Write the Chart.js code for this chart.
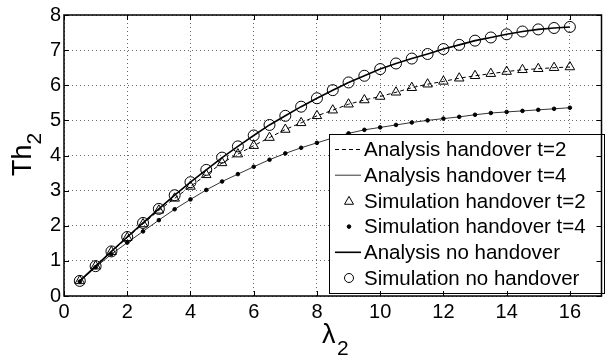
<!DOCTYPE html>
<html>
<head>
<meta charset="utf-8">
<script src="https://cdn.jsdelivr.net/npm/chart.js@4.4.0/dist/chart.umd.min.js"></script>
<style>
  html, body { margin: 0; padding: 0; background: #fff; }
  #wrap { width: 608px; height: 360px; position: relative; }
</style>
</head>
<body>
<div id="wrap"><canvas id="myChart" width="608" height="360"></canvas></div>
<script>
// lambda_2 values (x)
const lambda = [0.5, 1, 1.5, 2, 2.5, 3, 3.5, 4, 4.5, 5, 5.5, 6, 6.5, 7, 7.5, 8,
  8.5, 9, 9.5, 10, 10.5, 11, 11.5, 12, 12.5, 13, 13.5, 14, 14.5, 15, 15.5, 16];

// Th_2 values
const noHandover = [0.43, 0.85, 1.27, 1.68, 2.08, 2.48, 2.87, 3.24, 3.59, 3.94, 4.26, 4.57,
  4.87, 5.13, 5.39, 5.63, 5.86, 6.08, 6.27, 6.46, 6.62, 6.76, 6.89, 7.03, 7.15, 7.27, 7.36,
  7.45, 7.53, 7.59, 7.63, 7.66];
const handoverT2 = [0.43, 0.85, 1.26, 1.66, 2.05, 2.44, 2.78, 3.12, 3.45, 3.79, 4.04, 4.28,
  4.51, 4.74, 4.93, 5.13, 5.29, 5.46, 5.58, 5.68, 5.80, 5.93, 6.03, 6.11, 6.20, 6.27, 6.33,
  6.39, 6.44, 6.47, 6.50, 6.52];
const handoverT4 = [0.41, 0.82, 1.19, 1.52, 1.84, 2.16, 2.47, 2.75, 3.02, 3.26, 3.47, 3.68,
  3.88, 4.06, 4.22, 4.36, 4.50, 4.63, 4.73, 4.80, 4.87, 4.94, 5.00, 5.05, 5.10, 5.16, 5.21,
  5.24, 5.27, 5.30, 5.33, 5.36];

const xTicks = [0, 2, 4, 6, 8, 10, 12, 14, 16];
const yTicks = [0, 1, 2, 3, 4, 5, 6, 7, 8];

const FONT = "'Liberation Sans', Arial, sans-serif";

function pts(ys) {
  return lambda.map((x, i) => ({ x: x, y: ys[i] }));
}

const line = (label, ys, width, dash) => ({
  label: label, data: pts(ys), borderColor: '#000', borderWidth: width,
  borderDash: dash, pointRadius: 0, showLine: true, fill: false
});
const marks = (label, ys, style, r) => ({
  label: label, data: pts(ys), showLine: false, pointStyle: style, pointRadius: r,
  pointBorderColor: '#000', pointBackgroundColor: style === 'circle' && r < 3 ? '#000' : 'rgba(0,0,0,0)',
  pointBorderWidth: 1
});

const datasets = [
  line('Analysis handover t=2', handoverT2, 1, [4, 3]),
  line('Analysis handover t=4', handoverT4, 0.8, []),
  marks('Simulation handover t=2', handoverT2, 'triangle', 5.5),
  marks('Simulation handover t=4', handoverT4, 'circle', 1.8),
  line('Analysis no handover', noHandover, 1.6, []),
  marks('Simulation no handover', noHandover, 'circle', 5.5)
];

// legend box inside the plot, matlab style
const boxLegend = {
  id: 'boxLegend',
  afterDatasetsDraw(chart) {
    const ctx = chart.ctx;
    const x0 = 329, y0 = 134, w = 275, h = 159, row = 25.7;
    ctx.save();
    ctx.fillStyle = '#fff';
    ctx.fillRect(x0, y0, w, h);
    ctx.strokeStyle = '#000';
    ctx.lineWidth = 1;
    ctx.strokeRect(x0 + 0.5, y0 + 0.5, w, h);
    ctx.font = '20.5px ' + FONT;
    ctx.textBaseline = 'middle';
    datasets.forEach((ds, i) => {
      const cy = y0 + 15.5 + i * row;
      ctx.strokeStyle = '#000';
      if (ds.showLine) {
        ctx.setLineDash(ds.borderDash);
        ctx.lineWidth = ds.borderWidth;
        ctx.beginPath();
        ctx.moveTo(335, cy);
        ctx.lineTo(361, cy);
        ctx.stroke();
        ctx.setLineDash([]);
      } else {
        ctx.fillStyle = ds.pointBackgroundColor;
        ctx.lineWidth = 1;
        ctx.beginPath();
        if (ds.pointStyle === 'triangle') {
          const r = 4.5;
          ctx.moveTo(349, cy - r);
          ctx.lineTo(349 + r, cy + r * 0.75);
          ctx.lineTo(349 - r, cy + r * 0.75);
          ctx.closePath();
        } else {
          ctx.arc(349, cy, ds.pointRadius < 3 ? 1.8 : 4.5, 0, Math.PI * 2);
        }
        ctx.fill();
        ctx.stroke();
      }
      ctx.fillStyle = '#000';
      ctx.fillText(ds.label, 364, cy + 1);
    });
    ctx.restore();
  }
};

// frame, inward ticks and axis titles
const frame = {
  id: 'frame',
  afterDraw(chart) {
    const ctx = chart.ctx;
    const a = chart.chartArea;
    const xs = chart.scales.x, ys = chart.scales.y;
    ctx.save();
    ctx.strokeStyle = '#000';
    ctx.lineWidth = 1;
    ctx.beginPath();
    xTicks.forEach(t => {
      const px = Math.round(xs.getPixelForValue(t)) + 0.5;
      ctx.moveTo(px, a.bottom); ctx.lineTo(px, a.bottom - 5);
      ctx.moveTo(px, a.top); ctx.lineTo(px, a.top + 5);
    });
    yTicks.forEach(t => {
      const py = Math.round(ys.getPixelForValue(t)) + 0.5;
      ctx.moveTo(a.left, py); ctx.lineTo(a.left + 5, py);
      ctx.moveTo(a.right, py); ctx.lineTo(a.right - 5, py);
    });
    ctx.stroke();
    ctx.lineWidth = 1.5;
    ctx.strokeRect(a.left, a.top, a.right - a.left, a.bottom - a.top);

    ctx.fillStyle = '#000';
    ctx.textBaseline = 'alphabetic';
    ctx.textAlign = 'left';
    // x title: lambda_2
    ctx.font = '27px ' + FONT;
    ctx.fillText('\u03bb', 322, 343);
    ctx.font = '21px ' + FONT;
    ctx.fillText('2', 337, 355);
    // y title: Th_2
    ctx.translate(31, 176);
    ctx.rotate(-Math.PI / 2);
    ctx.font = '27px ' + FONT;
    ctx.fillText('Th', 0, 0);
    const wTh = ctx.measureText('Th').width;
    ctx.font = '21px ' + FONT;
    ctx.fillText('2', wTh, 10);
    ctx.restore();
  }
};

const ctx = document.getElementById('myChart').getContext('2d');
new Chart(ctx, {
  type: 'scatter',
  data: { datasets: datasets },
  options: {
    responsive: false,
    animation: false,
    layout: { padding: { left: 0, right: 1, top: 11, bottom: 0 } },
    plugins: { legend: { display: false }, tooltip: { enabled: false } },
    scales: {
      x: {
        type: 'linear', min: 0, max: 17,
        afterBuildTicks: axis => { axis.ticks = xTicks.map(v => ({ value: v })); },
        afterFit: scale => { scale.height = 64; },
        ticks: { color: '#000', font: { size: 20, family: FONT }, padding: 4, maxRotation: 0 },
        grid: { color: '#666', lineWidth: 1, drawTicks: false },
        border: { display: false, dash: [1, 3] }
      },
      y: {
        type: 'linear', min: 0, max: 8,
        afterBuildTicks: axis => { axis.ticks = yTicks.map(v => ({ value: v })); },
        afterFit: scale => { scale.width = 64; },
        ticks: { color: '#000', font: { size: 20, family: FONT }, padding: 3 },
        grid: { color: '#666', lineWidth: 1, drawTicks: false },
        border: { display: false, dash: [1, 3] }
      }
    }
  },
  plugins: [boxLegend, frame]
});
</script>
</body>
</html>
